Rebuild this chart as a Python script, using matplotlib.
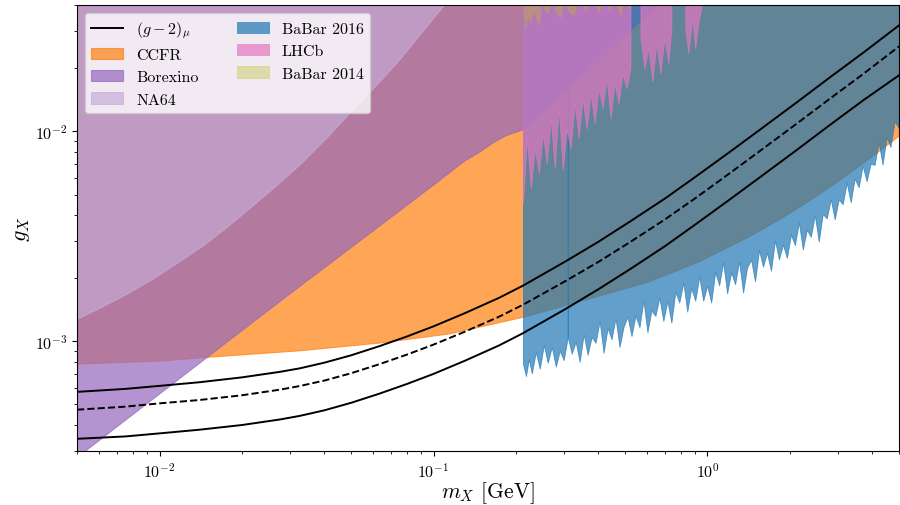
import numpy as np
import matplotlib
matplotlib.use("Agg")
import matplotlib.pyplot as plt

plt.rcParams["font.family"] = "serif"
plt.rcParams["font.serif"] = ["cmr10"]
plt.rcParams["mathtext.fontset"] = "cm"
plt.rcParams["axes.formatter.use_mathtext"] = True
plt.rcParams["axes.unicode_minus"] = True

# ---- data -------------------------------------------------------------
xlim = (0.005, 5.0)
ylim = (3e-4, 4e-2)
g_top = 0.05

# (g-2)_mu preferred band: upper, central, lower
gm2_m = [0.005, 0.0075, 0.01, 0.014, 0.02, 0.0275, 0.0325, 0.04, 0.05, 0.0635, 0.08, 0.1, 0.13,
         0.1734, 0.212, 0.303, 0.40, 0.52, 0.70, 0.90, 1.22, 1.6, 2.1, 2.8, 3.7, 5.0]
gm2_hi = [5.74e-4, 5.93e-4, 6.13e-4, 6.38e-4, 6.73e-4, 7.15e-4, 7.43e-4, 7.91e-4, 8.57e-4, 9.48e-4,
          1.054e-3, 1.178e-3, 1.36e-3, 1.61e-3, 1.84e-3, 2.40e-3, 2.98e-3, 3.71e-3, 4.79e-3, 6.05e-3,
          8.07e-3, 1.048e-2, 1.364e-2, 1.81e-2, 2.37e-2, 3.20e-2]
gm2_c = [4.72e-4, 4.88e-4, 5.06e-4, 5.25e-4, 5.53e-4, 5.88e-4, 6.12e-4, 6.50e-4, 7.04e-4, 7.78e-4,
         8.64e-4, 9.64e-4, 1.110e-3, 1.309e-3, 1.492e-3, 1.935e-3, 2.39e-3, 2.96e-3, 3.81e-3, 4.79e-3,
         6.39e-3, 8.30e-3, 1.08e-2, 1.433e-2, 1.877e-2, 2.54e-2]
gm2_lo = [3.43e-4, 3.52e-4, 3.64e-4, 3.79e-4, 3.99e-4, 4.24e-4, 4.41e-4, 4.69e-4, 5.09e-4, 5.63e-4,
          6.26e-4, 6.99e-4, 8.07e-4, 9.55e-4, 1.092e-3, 1.424e-3, 1.77e-3, 2.20e-3, 2.84e-3, 3.59e-3,
          4.79e-3, 6.22e-3, 8.09e-3, 1.074e-2, 1.406e-2, 1.85e-2]

# CCFR lower bound
ccfr_m = [0.005, 0.01, 0.01487, 0.0325, 0.0635, 0.114, 0.2126, 0.4004, 0.6086, 0.925, 1.406, 1.804,
          2.137, 2.747, 3.248, 4.175, 5.0]
ccfr_g = [7.83e-4, 8.09e-4, 8.43e-4, 9.06e-4, 9.86e-4, 1.09e-3, 1.31e-3, 1.65e-3, 1.93e-3, 2.40e-3, 3.15e-3, 3.79e-3,
          4.34e-3, 5.38e-3, 6.28e-3, 8.0e-3, 9.58e-3]

# Borexino lower bound
borex_m = [0.004, 0.0053, 0.01487, 0.02817, 0.0635, 0.10, 0.13, 0.1466, 0.165, 0.1834, 0.2052, 0.213,
           0.3, 0.4, 0.528, 0.7]
borex_g = [2.2e-4, 2.99e-4, 8.43e-4, 1.6e-3, 3.57e-3, 5.6e-3, 7.3e-3, 8.0e-3, 8.9e-3, 9.6e-3, 1.01e-2, 1.03e-2,
           1.56e-2, 2.2e-2, 3.1e-2, 4.3e-2]

# NA64 lower bound
na64_m = [0.005, 0.0062, 0.00763, 0.0095, 0.0116, 0.0145, 0.01763, 0.0215, 0.02636, 0.033, 0.0407,
          0.05, 0.0619, 0.075, 0.09, 0.1094, 0.13]
na64_g = [1.28e-3, 1.47e-3, 1.69e-3, 2.00e-3, 2.37e-3, 2.88e-3, 3.52e-3, 4.36e-3, 5.47e-3, 7.1e-3, 9.36e-3,
          1.25e-2, 1.67e-2, 2.2e-2, 2.95e-2, 4.03e-2, 5.2e-2]

# BaBar 2016 lower bound
babar16_m = [0.212, 0.2174, 0.2228, 0.2285, 0.2362, 0.2443, 0.2527, 0.2612, 0.2702, 0.2794,
             0.2889, 0.2987, 0.309, 0.3194, 0.3303, 0.3415, 0.3532, 0.3652, 0.3776, 0.3905,
             0.4038, 0.4176, 0.4318, 0.4465, 0.4617, 0.4774, 0.4937, 0.5105, 0.528, 0.546,
             0.5645, 0.5837, 0.6036, 0.6242, 0.6454, 0.6674, 0.690, 0.7137, 0.738, 0.7632,
             0.789, 0.816, 0.8437, 0.8724, 0.902, 0.9328, 0.9646, 0.9975, 1.0315, 1.0666,
             1.103, 1.1406, 1.1794, 1.2196, 1.261, 1.304, 1.3485, 1.3944, 1.442, 1.491,
             1.542, 1.594, 1.648, 1.705, 1.763, 1.823, 1.885, 1.949, 2.016, 2.084,
             2.155, 2.228, 2.304, 2.383, 2.464, 2.547, 2.634, 2.724, 2.818, 2.913,
             3.013, 3.115, 3.221, 3.331, 3.444, 3.562, 3.683, 3.808, 3.938, 4.073,
             4.211, 4.355, 4.503, 4.656, 4.815, 5.0]
babar16_g = [7.84e-4, 6.82e-4, 8.19e-4, 7.03e-4, 8.88e-4, 7.40e-4, 9.59e-4, 7.90e-4, 9.40e-4, 7.57e-4,
             9.01e-4, 8.13e-4, 1.048e-3, 8.73e-4, 9.95e-4, 7.98e-4, 1.081e-3, 8.62e-4, 1.048e-3, 9.84e-4,
             1.245e-3, 8.81e-4, 1.155e-3, 1.022e-3, 1.288e-3, 9.39e-4, 1.170e-3, 1.310e-3, 1.059e-3, 1.326e-3,
             1.167e-3, 1.565e-3, 1.104e-3, 1.401e-3, 1.321e-3, 1.614e-3, 1.250e-3, 1.555e-3, 1.228e-3, 1.722e-3,
             1.529e-3, 1.905e-3, 1.384e-3, 1.795e-3, 1.560e-3, 2.030e-3, 1.560e-3, 1.841e-3, 1.531e-3, 2.133e-3,
             1.847e-3, 2.373e-3, 1.694e-3, 2.129e-3, 1.870e-3, 2.404e-3, 1.707e-3, 2.246e-3, 2.447e-3, 1.930e-3,
             2.716e-3, 2.266e-3, 2.640e-3, 2.171e-3, 3.017e-3, 2.456e-3, 2.888e-3, 2.496e-3, 3.22e-3, 2.872e-3,
             3.674e-3, 2.734e-3, 3.398e-3, 3.143e-3, 3.993e-3, 2.991e-3, 4.042e-3, 3.852e-3, 4.745e-3, 3.81e-3,
             4.74e-3, 4.50e-3, 5.69e-3, 4.60e-3, 5.95e-3, 5.42e-3, 6.86e-3, 5.79e-3, 7.01e-3, 6.93e-3,
             8.88e-3, 6.95e-3, 9.38e-3, 8.44e-3, 1.117e-2, 1.033e-2]
babar16_split = 0.309

# LHCb lower bound (three mass windows)
lhcb_m1 = [0.212, 0.2192, 0.2266, 0.2343, 0.2423, 0.2506, 0.2591, 0.2679, 0.277, 0.2865,
           0.2962, 0.3063, 0.3167, 0.3275, 0.3387, 0.3502, 0.3621, 0.3745, 0.3873, 0.4004,
           0.4141, 0.4282, 0.4428, 0.4579, 0.4735, 0.4896, 0.5063, 0.5235]
lhcb_g1 = [4.53e-3, 9.26e-3, 5.35e-3, 8.30e-3, 6.30e-3, 9.78e-3, 7.03e-3, 1.153e-2, 6.66e-3, 1.288e-2,
           6.52e-3, 1.03e-2, 8.30e-3, 1.36e-2, 9.26e-3, 1.437e-2, 1.03e-2, 1.517e-2, 1.092e-2, 1.603e-2,
           1.288e-2, 1.789e-2, 1.153e-2, 1.694e-2, 1.36e-2, 1.89e-2, 1.603e-2, 1.997e-2]
lhcb_m2 = [0.5692, 0.5886, 0.6086, 0.6294, 0.6508, 0.673, 0.696, 0.7197, 0.738]
lhcb_g2 = [2.777e-2, 1.997e-2, 2.487e-2, 1.73e-2, 2.628e-2, 1.89e-2, 2.777e-2, 2.11e-2, 3.10e-2]
lhcb_m3 = [0.8295, 0.851, 0.88, 0.902, 0.925, 0.9486]
lhcb_g3 = [3.10e-2, 2.355e-2, 3.46e-2, 2.487e-2, 3.27e-2, 3.86e-2]

# BaBar 2014 lower bound
babar14_m = [0.212, 0.216, 0.22, 0.225, 0.23, 0.236, 0.242, 0.248, 0.255, 0.262,
             0.27, 0.28, 0.29, 0.30, 0.31, 0.325, 0.34, 0.36, 0.38, 0.40,
             0.42, 0.44, 0.46, 0.48, 0.50, 0.52]
babar14_g = [4.5e-2, 3.1e-2, 3.6e-2, 3.3e-2, 3.8e-2, 3.57e-2, 3.2e-2, 4.5e-2, 3.78e-2, 3.68e-2,
             4.5e-2, 3.7e-2, 3.5e-2, 4.5e-2, 3.75e-2, 3.6e-2, 4.5e-2, 3.8e-2, 4.5e-2, 3.7e-2,
             4.5e-2, 3.8e-2, 4.5e-2, 3.6e-2, 4.5e-2, 3.8e-2]

# ---- figure -----------------------------------------------------------
fig = plt.figure(figsize=(9.0, 5.06), dpi=100)
ax = fig.add_axes([0.0856, 0.1067, 0.9133, 0.8814])
ax.set_xscale("log")
ax.set_yscale("log")

c_ccfr = "tab:orange"
c_borex = "tab:purple"
c_na64 = "#c5acd7"
c_b16 = "tab:blue"
c_lhcb = "tab:pink"
c_b14 = "tab:olive"

ax.fill_between(ccfr_m, ccfr_g, g_top, color=c_ccfr, alpha=0.7, lw=0.8, label="CCFR")
ax.fill_between(borex_m, borex_g, g_top, color=c_borex, alpha=0.7, lw=0.8, label="Borexino")
ax.fill_between(na64_m, na64_g, g_top, color=c_na64, alpha=0.67, lw=0.8, label="NA64")

bm = np.array(babar16_m)
bg = np.array(babar16_g)
k = int(np.searchsorted(bm, babar16_split)) + 1
ax.fill_between(bm[:k], bg[:k], g_top, color=c_b16, alpha=0.7, lw=0.6, label="BaBar 2016")
ax.fill_between(bm[k - 1:], bg[k - 1:], g_top, color=c_b16, alpha=0.7, lw=0.6)

for m, g in [(lhcb_m1, lhcb_g1), (lhcb_m2, lhcb_g2), (lhcb_m3, lhcb_g3)]:
    ax.fill_between(m, g, g_top, color=c_lhcb, alpha=0.7, lw=0.6,
                    label="LHCb" if m is lhcb_m1 else None)

ax.fill_between(babar14_m, babar14_g, g_top, color=c_b14, alpha=0.35, lw=0.6, label="BaBar 2014")

ax.plot(gm2_m, gm2_hi, color="black", lw=1.4, label=r"$(g-2)_\mu$")
ax.plot(gm2_m, gm2_c, color="black", lw=1.4, ls="--")
ax.plot(gm2_m, gm2_lo, color="black", lw=1.4)

ax.set_xlim(*xlim)
ax.set_ylim(*ylim)
ax.set_xlabel(r"$m_X$ [GeV]", fontsize=15.5, labelpad=0)
ax.set_ylabel(r"$g_X$", fontsize=16, labelpad=2)
ax.tick_params(labelsize=11.5)

handles, labels = ax.get_legend_handles_labels()
order = [labels.index(s) for s in [r"$(g-2)_\mu$", "CCFR", "Borexino", "NA64", "BaBar 2016", "LHCb", "BaBar 2014"]]
ax.legend([handles[i] for i in order], [labels[i] for i in order], ncol=2, loc="upper left",
          fontsize=11.5, framealpha=0.8, columnspacing=2.4)

fig.savefig("out.png", dpi=100)
